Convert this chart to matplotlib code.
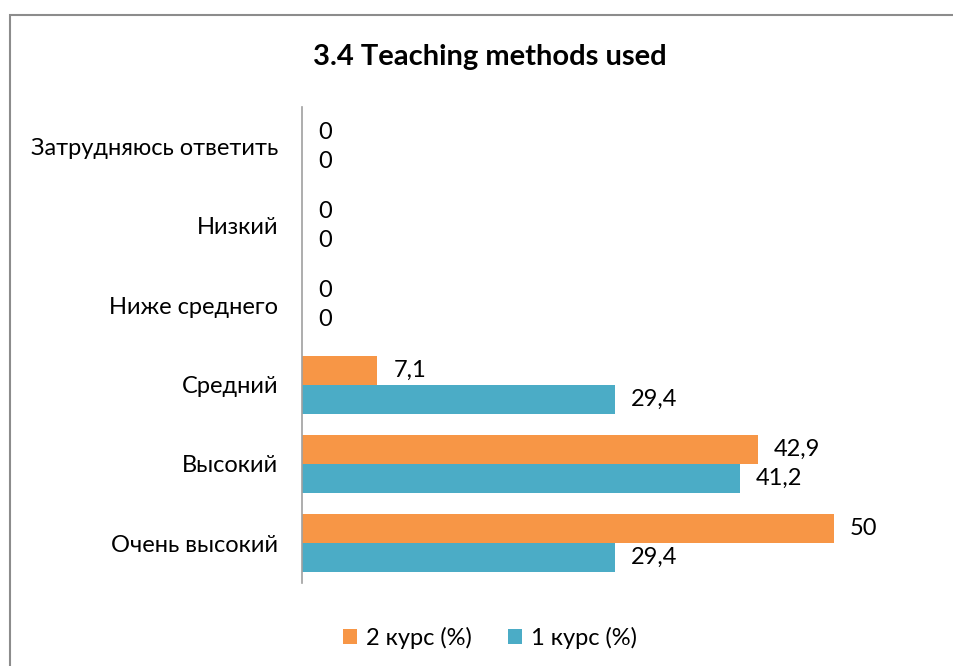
import numpy as np
import matplotlib.pyplot as plt
from matplotlib.patches import Rectangle

categories = ['Очень высокий', 'Высокий', 'Средний', 'Ниже среднего', 'Низкий', 'Затрудняюсь ответить']
kurs2 = [50, 42.9, 7.1, 0, 0, 0]
kurs1 = [29.4, 41.2, 29.4, 0, 0, 0]
series_names = ['2 курс (%)', '1 курс (%)']
colors = ['#F79646', '#4BACC6']

plt.rcParams['font.family'] = ['Lato', 'DejaVu Sans']
fs = 17

fig = plt.figure(figsize=(9.54, 6.66), dpi=100)
ax = fig.add_axes([302/954, 1-583/666, 638/954, 476/666])

y = np.arange(len(categories))
h = 0.365
b2 = ax.barh(y + h/2, kurs2, height=h, color=colors[0], label=series_names[0])
b1 = ax.barh(y - h/2, kurs1, height=h, color=colors[1], label=series_names[1])

def fmt(v):
    return ('%g' % v).replace('.', ',')

for bars, vals in ((b2, kurs2), (b1, kurs1)):
    for bar, v in zip(bars, vals):
        ax.annotate(fmt(v), (bar.get_width(), bar.get_y() + bar.get_height()/2),
                    xytext=(16, 0), textcoords='offset pixels',
                    va='center', ha='left', fontsize=fs)

ax.set_xlim(0, 60)
ax.set_ylim(-0.5, len(categories) - 0.5)
ax.set_yticks(y)
ax.set_yticklabels(categories, fontsize=fs)
ax.set_xticks([])
ax.tick_params(axis='y', length=0, pad=17)
for s in ['top', 'right', 'bottom']:
    ax.spines[s].set_visible(False)
ax.spines['left'].set_color('#A0A0A0')
ax.spines['left'].set_linewidth(1.2)

fig.text(490/954, 1-57/666, '3.4 Teaching methods used', ha='center', va='center',
         fontsize=21, fontweight='bold')

handles = [b2, b1]
leg = fig.legend(handles, series_names, loc='center', bbox_to_anchor=(490/954, 1-638/666),
                 ncol=2, frameon=False, fontsize=fs, handlelength=0.6, handleheight=0.6,
                 handletextpad=0.4, columnspacing=1.5)

fig.patches.append(Rectangle((10/954, -0.1), 1.2, 1 - 15/666 + 0.1, transform=fig.transFigure,
                             fill=False, edgecolor='#8C8C8C', linewidth=1.5))

fig.savefig('out.png', dpi=100)
